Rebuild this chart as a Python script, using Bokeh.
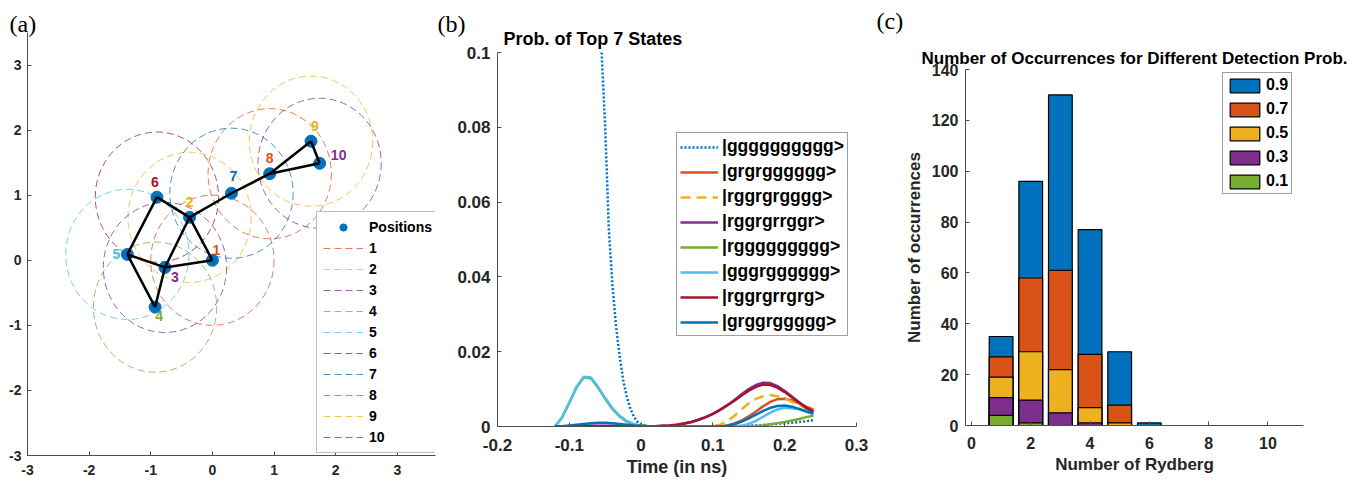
from bokeh.plotting import figure
from bokeh.models import ColumnDataSource, FixedTicker, Legend, LegendItem, Label, Title
from bokeh.layouts import row, column
from bokeh.embed import file_html
from bokeh.resources import INLINE
from bokeh.core.properties import value

# ---------------- data: panel (a) atom positions ----------------
atom_ids = ["1", "2", "3", "4", "5", "6", "7", "8", "9", "10"]
atom_x = [0.00, -0.37, -0.77, -0.93, -1.38, -0.90, 0.31, 0.93, 1.60, 1.74]
atom_y = [0.00, 0.66, -0.11, -0.72, 0.09, 0.97, 1.03, 1.33, 1.83, 1.49]
blockade_radius = 1.0
edges = [(5, 6), (6, 2), (2, 1), (1, 3), (3, 5), (5, 4), (4, 3), (3, 2),
         (2, 7), (7, 8), (8, 9), (9, 10), (10, 8)]
a_ticks = [-3, -2, -1, 0, 1, 2, 3]
a_tick_labels = ["-3", "-2", "-1", "0", "1", "2", "3"]

# ---------------- data: panel (b) state probabilities ----------------
state_labels = ["|gggggggggg>", "|grgrgggggg>", "|rggrgrgggg>", "|rggrgrrggr>",
                "|rggggggggg>", "|gggrgggggg>", "|rggrgrrgrg>", "|grggrggggg>"]
t_ground = [-0.12, -0.10, -0.08, -0.07, -0.06, -0.055, -0.05, -0.045, -0.04, -0.035,
            -0.03, -0.025, -0.02, -0.015, -0.01, -0.005, 0.00, 0.01, 0.03, 0.06,
            0.10, 0.13, 0.15, 0.17, 0.19, 0.21, 0.23, 0.24]
p_gggggggggg = [1.0, 0.55, 0.25, 0.17, 0.125, 0.10, 0.080, 0.053, 0.038, 0.027,
                0.019, 0.0125, 0.0080, 0.0048, 0.0026, 0.0012, 0.0005, 0.0001, 0.0, 0.0,
                0.0, 0.0001, 0.0002, 0.0004, 0.0007, 0.0010, 0.0014, 0.0017]
t_ns = [-0.12, -0.11, -0.10, -0.09, -0.08, -0.07, -0.06, -0.05, -0.04, -0.03, -0.02, -0.01,
        0.00, 0.01, 0.02, 0.03, 0.04, 0.05, 0.06, 0.07, 0.08, 0.09, 0.10, 0.11, 0.12,
        0.13, 0.14, 0.15, 0.16, 0.17, 0.18, 0.19, 0.20, 0.21, 0.22, 0.23, 0.24]
p_grgrgggggg = [0, 0, 0, 0.0001, 0.0001, 0.0001, 0.0001, 0.0001, 0.0001, 0.0001, 0, 0, 0,
                0, 0, 0, 0, 0, 0, 0, 0, 0, 0, 0.0001,
                0.0003, 0.0008, 0.0016, 0.0027, 0.0040, 0.0054, 0.0066, 0.0073, 0.0074,
                0.0070, 0.0062, 0.0053, 0.0045]
p_rggrgrgggg = [0, 0, 0, 0, 0, 0, 0, 0, 0, 0, 0, 0, 0,
                0, 0, 0, 0, 0, 0, 0, 0, 0, 0.0001,
                0.0005, 0.0014, 0.0029, 0.0046, 0.0062, 0.0074, 0.0081, 0.0084, 0.0081,
                0.0075, 0.0066, 0.0057, 0.0048, 0.0041]
p_rggrgrrggr = [0, 0.0001, 0.0001, 0.0002, 0.0002, 0.0002, 0.0002, 0.0002, 0.0002, 0.0002,
                0.0001, 0.0001, 0.0001,
                0.0001, 0.0001, 0.0002, 0.0003, 0.0005, 0.0008, 0.0012, 0.0018, 0.0025, 0.0034,
                0.0045, 0.0057, 0.0071, 0.0086, 0.0100, 0.0111, 0.0117, 0.0116, 0.0108,
                0.0095, 0.0080, 0.0065, 0.0051, 0.0040]
p_rggggggggg = [0, 0.0024, 0.0063, 0.0104, 0.0131, 0.0129, 0.0104, 0.0074, 0.0047, 0.0027,
                0.0013, 0.0005, 0.0002,
                0.0001, 0, 0, 0, 0, 0, 0, 0, 0, 0,
                0, 0, 0, 0, 0, 0.0001, 0.0003, 0.0006, 0.0009, 0.0012, 0.0016, 0.0020,
                0.0025, 0.0029]
p_gggrgggggg = [0, 0.0025, 0.0065, 0.0106, 0.0133, 0.0131, 0.0106, 0.0076, 0.0049, 0.0029,
                0.0015, 0.0006, 0.0002,
                0.0001, 0, 0, 0, 0, 0, 0, 0, 0, 0,
                0, 0, 0, 0.0002, 0.0007, 0.0015, 0.0026, 0.0037, 0.0046, 0.0050, 0.0049,
                0.0046, 0.0041, 0.0036]
p_rggrgrrgrg = [0, 0, 0.0001, 0.0001, 0.0001, 0.0001, 0.0001, 0.0001, 0.0001, 0.0001,
                0.0001, 0.0001, 0.0001,
                0.0001, 0.0001, 0.0002, 0.0003, 0.0005, 0.0008, 0.0012, 0.0018, 0.0025, 0.0034,
                0.0044, 0.0056, 0.0069, 0.0083, 0.0096, 0.0106, 0.0112, 0.0111, 0.0104,
                0.0092, 0.0078, 0.0064, 0.0050, 0.0039]
p_grggrggggg = [0, 0.0001, 0.0003, 0.0005, 0.0007, 0.0009, 0.0010, 0.0010, 0.0009, 0.0007,
                0.0005, 0.0003, 0.0002,
                0.0001, 0.0001, 0, 0, 0, 0, 0, 0, 0, 0,
                0, 0.0002, 0.0006, 0.0013, 0.0022, 0.0032, 0.0042, 0.0050, 0.0055, 0.0056,
                0.0053, 0.0047, 0.0040, 0.0034]
b_xticks = [-0.2, -0.1, 0.0, 0.1, 0.2, 0.3]
b_xtick_labels = ["-0.2", "-0.1", "0", "0.1", "0.2", "0.3"]
b_yticks = [0.0, 0.02, 0.04, 0.06, 0.08, 0.1]
b_ytick_labels = ["0", "0.02", "0.04", "0.06", "0.08", "0.1"]
b_ymax = 0.1

# ---------------- data: panel (c) histogram ----------------
rydberg_n = [1, 2, 3, 4, 5, 6, 7, 8, 9, 10]
detect_probs = ["0.9", "0.7", "0.5", "0.3", "0.1"]
occ_09 = [35, 96, 130, 77, 29, 1, 0, 0, 0, 0]
occ_07 = [27, 58, 61, 28, 8, 0, 0, 0, 0, 0]
occ_05 = [19, 29, 22, 7, 1, 0, 0, 0, 0, 0]
occ_03 = [11, 10, 5, 1, 0, 0, 0, 0, 0, 0]
occ_01 = [4, 1, 0, 0, 0, 0, 0, 0, 0, 0]
c_xticks = [0, 2, 4, 6, 8, 10]
c_xtick_labels = ["0", "2", "4", "6", "8", "10"]
c_yticks = [0, 20, 40, 60, 80, 100, 120, 140]
c_ytick_labels = ["0", "20", "40", "60", "80", "100", "120", "140"]

# ---------------- styles ----------------
FONT = "Liberation Sans"
SERIF = "Liberation Serif"
TXT = "#262626"
AXL = "#4d4d4d"
BLUE, ORANGE, YELLOW, PURPLE = "#0072BD", "#D95319", "#EDB120", "#7E2F8E"
GREEN, CYAN, DRED = "#77AC30", "#4DBEEE", "#A2142F"
circle_colors = [ORANGE, YELLOW, PURPLE, GREEN, CYAN, DRED, BLUE, ORANGE, YELLOW, PURPLE]
label_dx = [4, 0, 10, 4, -11, -2, 2, 0, 4, 19]
label_dy = [-10, -15, 10, 9, 0, -15, -17, -16, -15, -8]
NAN = float("nan")


def style_axes(p, xt, xl, yt, yl, size, xstand, ystand):
    p.xaxis.ticker = FixedTicker(ticks=xt)
    p.xaxis.major_label_overrides = dict(zip(xt, xl))
    p.yaxis.ticker = FixedTicker(ticks=yt)
    p.yaxis.major_label_overrides = dict(zip(yt, yl))
    for ax in (p.xaxis[0], p.yaxis[0]):
        ax.axis_line_color = AXL
        ax.axis_line_width = 1
        ax.major_tick_in = 4
        ax.major_tick_out = 0
        ax.major_tick_line_color = AXL
        ax.minor_tick_line_color = None
        ax.major_label_text_font = FONT
        ax.major_label_text_font_style = "bold"
        ax.major_label_text_font_size = size
        ax.major_label_text_color = TXT
        ax.axis_label_text_font = FONT
        ax.axis_label_text_font_style = "bold"
        ax.axis_label_text_color = TXT
    p.xaxis[0].major_label_standoff = xstand
    p.yaxis[0].major_label_standoff = ystand
    p.xgrid.visible = False
    p.ygrid.visible = False
    p.outline_line_color = None
    p.background_fill_color = "white"


def style_legend(lg, size, style):
    lg.label_text_font = FONT
    lg.label_text_font_size = size
    lg.label_text_font_style = style
    lg.label_text_color = "black"
    lg.border_line_color = "#404040"
    lg.border_line_width = 1
    lg.background_fill_color = "white"
    lg.background_fill_alpha = 1.0
    lg.margin = 0


def title(text, size, style, font, align, offset, standoff):
    return Title(text=text, text_font=font, text_font_size=size, text_font_style=style,
                 text_color="black", align=align, offset=offset, standoff=standoff)


# ---------------- panel (a) ----------------
p1 = figure(width=436, height=480, x_range=(-3, 3.62), y_range=(-3, 3.5), title=None,
            output_backend="svg", toolbar_location=None, frame_align=False,
            min_border_left=27, min_border_right=1, min_border_top=32, min_border_bottom=25)
style_axes(p1, a_ticks, a_tick_labels, a_ticks, a_tick_labels, "14px", 9, 6)

src_a = ColumnDataSource(dict(x=atom_x, y=atom_y, name=atom_ids, color=circle_colors,
                              dx=label_dx, dy=label_dy))
p1.ellipse(x="x", y="y", width=2 * blockade_radius, height=2 * blockade_radius,
           source=src_a, fill_color=None, line_color="color", line_alpha=0.75,
           line_width=1, line_dash="7 4")
dots = p1.scatter(x="x", y="y", source=src_a, size=12, color=BLUE)
edge_xs = [[atom_x[i - 1], atom_x[j - 1]] for i, j in edges]
edge_ys = [[atom_y[i - 1], atom_y[j - 1]] for i, j in edges]
p1.multi_line(xs=edge_xs, ys=edge_ys, line_color="black", line_width=2.5)
p1.text(x="x", y="y", text="name", source=src_a, x_offset="dx", y_offset="dy",
        text_color="color", text_font=value(FONT), text_font_style="bold",
        text_font_size="14px", text_align="center", text_baseline="middle")

items_a = [LegendItem(label="Positions", renderers=[dots])]
for name, col in zip(atom_ids, circle_colors):
    r = p1.line(x=[NAN, NAN], y=[NAN, NAN], line_color=col, line_alpha=0.75,
                line_width=1, line_dash="7 4")
    items_a.append(LegendItem(label=name, renderers=[r]))
leg_a = Legend(items=items_a, location=(289, 2), glyph_width=40, glyph_height=18,
               label_height=18, spacing=3, padding=6, label_standoff=6)
style_legend(leg_a, "14px", "bold")
leg_a.border_line_color = "#808080"
p1.add_layout(leg_a)
p1.add_layout(title("(a)", "24px", "normal", SERIF, "left", -18, -9), "above")

# ---------------- panel (b) ----------------
# frame extends 26 px above the 0.1 end of the y axis, so the title can sit inside it
B_TOP, B_FRAME_H, B_AXIS_PX = 26, 400, 374
b_ytop = b_ymax * B_FRAME_H / B_AXIS_PX
p2 = figure(width=434, height=480, x_range=(-0.2, 0.3), y_range=(0, b_ytop), title=None,
            output_backend="svg", toolbar_location=None, frame_align=False,
            min_border_left=61, min_border_right=14, min_border_top=B_TOP,
            min_border_bottom=54)
style_axes(p2, b_xticks, b_xtick_labels, b_yticks, b_ytick_labels, "17px", 12, 7)
p2.yaxis.bounds = (0, b_ymax)
p2.xaxis.axis_label = "Time (in ns)"
p2.xaxis.axis_label_text_font_size = "18px"
p2.xaxis.axis_label_standoff = 3

# the axes end at 0.1: show only the part of the ground-state curve within that limit
vis = [i for i, v in enumerate(p_gggggggggg) if v <= b_ymax]
series_b = [
    ([t_ground[i] for i in vis], [p_gggggggggg[i] for i in vis], BLUE, "2 2"),
    (t_ns, p_grgrgggggg, ORANGE, "solid"),
    (t_ns, p_rggrgrgggg, YELLOW, "10 6"),
    (t_ns, p_rggrgrrggr, PURPLE, "solid"),
    (t_ns, p_rggggggggg, GREEN, "solid"),
    (t_ns, p_gggrgggggg, CYAN, "solid"),
    (t_ns, p_rggrgrrgrg, DRED, "solid"),
    (t_ns, p_grggrggggg, BLUE, "solid"),
]
items_b = []
for (tx, py, col, dash), lab in zip(series_b, state_labels):
    r = p2.line(x=tx, y=py, line_color=col, line_width=2.5, line_dash=dash)
    items_b.append(LegendItem(label=lab, renderers=[r]))
leg_b = Legend(items=items_b, location=(179, 90), glyph_width=38, glyph_height=20,
               label_height=20, spacing=4, padding=3, label_standoff=4)
style_legend(leg_b, "17.5px", "bold")
p2.add_layout(leg_b)
p2.add_layout(Label(x=-0.2, y=b_ymax, x_offset=6, y_offset=13.5, text="Prob. of Top 7 States",
                    text_font=FONT, text_font_size="18px", text_font_style="bold",
                    text_align="left", text_baseline="middle", text_color="black"))
p2.add_layout(title("(b)", "24px", "normal", SERIF, "left", -60, -21), "above")

# ---------------- panel (c) ----------------
hc = figure(width=480, height=37, x_range=(0, 480), y_range=(0, 37),
            x_axis_type=None, y_axis_type=None, title=None, output_backend="svg",
            toolbar_location=None, frame_align=False, min_border=0)
hc.outline_line_color = None
hc.add_layout(Label(x=6, y=17, text="(c)", text_font=SERIF, text_font_size="24px",
                    text_align="left", text_baseline="middle", text_color="black"))

p3 = figure(width=480, height=443, x_range=(-0.2, 11.2), y_range=(0, 140), title=None,
            output_backend="svg", toolbar_location=None, frame_align=False,
            min_border_left=95, min_border_right=47, min_border_top=32, min_border_bottom=55)
style_axes(p3, c_xticks, c_xtick_labels, c_yticks, c_ytick_labels, "16px", 11, 7)
p3.xaxis.axis_label = "Number of Rydberg"
p3.xaxis.axis_label_text_font_size = "17px"
p3.xaxis.axis_label_standoff = 3
p3.yaxis.axis_label = "Number of occurrences"
p3.yaxis.axis_label_text_font_size = "17px"
p3.yaxis.axis_label_standoff = 5

bars = [(occ_09, BLUE), (occ_07, ORANGE), (occ_05, YELLOW), (occ_03, PURPLE), (occ_01, GREEN)]
items_c = []
for (occ, col), lab in zip(bars, detect_probs):
    r = p3.vbar(x=rydberg_n, top=occ, width=0.8, fill_color=col, line_color="black",
                line_width=1.2)
    items_c.append(LegendItem(label=lab, renderers=[r]))
leg_c = Legend(items=items_c, location=(257, 231), glyph_width=37, glyph_height=17,
               label_height=17, spacing=6, padding=3, label_standoff=3)
style_legend(leg_c, "16px", "bold")
p3.add_layout(leg_c)
p3.add_layout(title("Number of Occurrences for Different Detection Prob.", "17px", "bold",
                    FONT, "center", 0, 4), "above")

layout = row(p1, p2, column(hc, p3))
open("out.html", "w").write(file_html(layout, INLINE))
